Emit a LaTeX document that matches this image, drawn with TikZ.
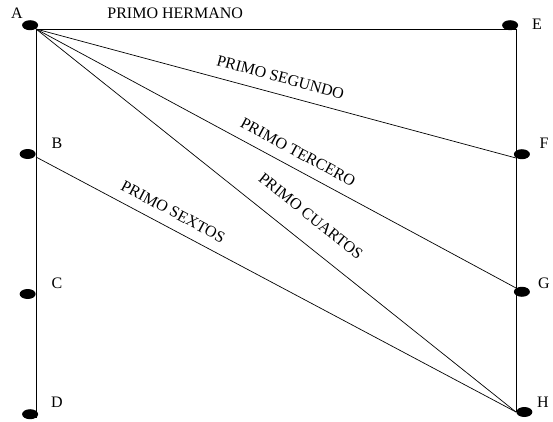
\documentclass[tikz,border=0pt]{standalone}
\usepackage{fontspec}
\setmainfont{Liberation Serif}
\usepackage{tikz}
\usetikzlibrary{shapes.geometric}
\newcommand{\widthdot}{16pt}
\newcommand{\heightdot}{10pt}
\tikzset{
    common/.style={font=\fontsize{16}{19}\selectfont},
    letter/.style={common, inner sep=0pt},
    dot/.style={ellipse, fill=black, inner sep=0pt, minimum width=\widthdot, minimum height=\heightdot},
    kinship/.style={common, sloped, pos=#1}
}
\begin{document}
\begin{tikzpicture}[x=1pt, y=1pt, line width=0.7pt]
      \useasboundingbox (0,0) rectangle (553,421);

      \path
          (36,392) coordinate (a)
          +(0,-128) coordinate (b)
          +(0,-265) coordinate (c)
          +(0,-389) coordinate (d);
      \path
          (516,392) coordinate (e)
          +(0,-129) coordinate (f)
          +(0,-259) coordinate (g)
          +(0,-383) coordinate (h);

      \draw (a) -- (d) (e) -- (h);
      \draw (a) -- node[kinship=0.29, above=7pt] (hermano) {PRIMO HERMANO} (e);
      \draw (a) -- node[kinship=0.50, above=8pt] (segundo) {PRIMO SEGUNDO} (f);
      \draw (a) -- node[kinship=0.53, above=7pt] (tercero) {PRIMO TERCERO} (g);
      \draw (a) -- node[kinship=0.54, above=16pt] (cuartos) {PRIMO CUARTOS} (h);
      \draw (b) -- node[kinship=0.27, above=7pt] (sextos) {PRIMO SEXTOS} (h);

      \path
          (a) node[dot, anchor=south east] (a-dot) {}
              +(-19,16) node[letter] (a-tag) {A}
          (b) node[dot, anchor=east, yshift=3] (b-dot) {}
              +(21,14) node[letter] (b-tag) {B}
          (c) node[dot, anchor=east] (c-dot) {}
              +(21,11) node[letter] (c-tag) {C}
          (d) node[dot, anchor=south east] (d-dot) {}
              +(21,16) node[letter] (d-tag) {D};
      \path
          (e) node[dot, anchor=south east] (e-dot) {}
              +(21,5) node[letter] (e-tag) {E}
          (f) node[dot, anchor=south west] (f-dot) {}
              +(28,15) node[letter] (f-tag) {F}
          (g) node[dot, anchor=north west] (g-dot) {}
              +(28,5) node[letter] (g-tag) {G}
          (h) node[dot, anchor=west] (h-dot) {}
              +(27,10) node[letter] (h-tag) {H};
    \end{tikzpicture}
\end{document}
